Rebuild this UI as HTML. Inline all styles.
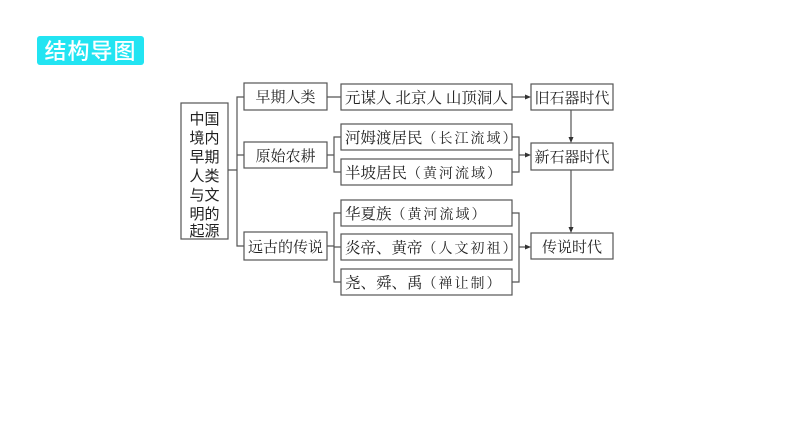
<!DOCTYPE html>
<html><head><meta charset="utf-8"><style>
html,body{margin:0;padding:0;background:#fff;}
svg{display:block;}
text.s{font-family:"Noto Serif CJK SC","Noto Serif CJK JP",serif;fill:#222;}
</style></head><body>
<svg width="794" height="448" viewBox="0 0 794 448" xmlns="http://www.w3.org/2000/svg">
<rect x="37" y="36" width="107" height="29" rx="3" fill="#22e4f2"/>
<text x="90.5" y="59" text-anchor="middle" font-family="'Noto Sans CJK SC',sans-serif" font-size="22" font-weight="500" fill="#fff" letter-spacing="1">结构导图</text>
<g fill="none" stroke="#555" stroke-width="1.2">
<rect x="181" y="103" width="47" height="136"/>
<rect x="244" y="83" width="83" height="27"/>
<rect x="244" y="142" width="83" height="26"/>
<rect x="244" y="232" width="83" height="28"/>
<rect x="341" y="84" width="171" height="26"/>
<rect x="341" y="124" width="171" height="26"/>
<rect x="341" y="159" width="171" height="26"/>
<rect x="341" y="200" width="171" height="26"/>
<rect x="341" y="234" width="171" height="26"/>
<rect x="341" y="269" width="171" height="26"/>
<rect x="531" y="84" width="82" height="26"/>
<rect x="531" y="143" width="82" height="27"/>
<rect x="531" y="233" width="82" height="26"/>
<path d="M228 170H237M244 97H237V246H244M237 155H244"/>
<path d="M327 97H341M327 155H334M341 137H334V172H341M327 246H334M341 213H334V282H341M334 247H341"/>
<path d="M512 137H519V172H512M519 155H526M512 213H519V282H512M519 247H526M512 97H526"/>
<path d="M571 110V138M571 170V228"/>
</g>
<g fill="#333">
<path d="M531 97l-6-2.5v5z"/>
<path d="M531 155l-6-2.5v5z"/>
<path d="M531 247l-6-2.5v5z"/>
<path d="M571 143l-2.5-6h5z"/>
<path d="M571 233l-2.5-6h5z"/>
</g>
<g font-family="'Noto Sans CJK SC',sans-serif" font-size="15" fill="#222" text-anchor="middle">
<text x="204.5" y="124">中国</text>
<text x="204.5" y="143">境内</text>
<text x="204.5" y="162">早期</text>
<text x="204.5" y="181">人类</text>
<text x="204.5" y="200">与文</text>
<text x="204.5" y="219">明的</text>
<text x="204.5" y="236">起源</text>
</g>
<g text-anchor="middle">
<text class="s" font-size="15" x="285.5" y="102">早期人类</text>
<text class="s" font-size="15" x="285.5" y="161">原始农耕</text>
<text class="s" font-size="15" x="285.5" y="252">远古的传说</text>
<text class="s" font-size="15" x="572" y="103">旧石器时代</text>
<text class="s" font-size="15" x="572" y="162">新石器时代</text>
<text class="s" font-size="15" x="572" y="252">传说时代</text>
</g>
<g>
<text class="s" font-size="15.5" x="345" y="103">元谋人 北京人 山顶洞人</text>
<text class="s" font-size="15.5" x="345" y="143">河姆渡居民<tspan font-size="14" letter-spacing="2">（长江流域）</tspan></text>
<text class="s" font-size="15.5" x="345" y="178">半坡居民<tspan font-size="14" letter-spacing="2">（黄河流域）</tspan></text>
<text class="s" font-size="15.5" x="345" y="219">华夏族<tspan font-size="14" letter-spacing="2">（黄河流域）</tspan></text>
<text class="s" font-size="15.5" x="345" y="253">炎帝、黄帝<tspan font-size="14" letter-spacing="2">（人文初祖）</tspan></text>
<text class="s" font-size="15.5" x="345" y="288">尧、舜、禹<tspan font-size="14" letter-spacing="2">（禅让制）</tspan></text>
</g>
</svg>
</body></html>
